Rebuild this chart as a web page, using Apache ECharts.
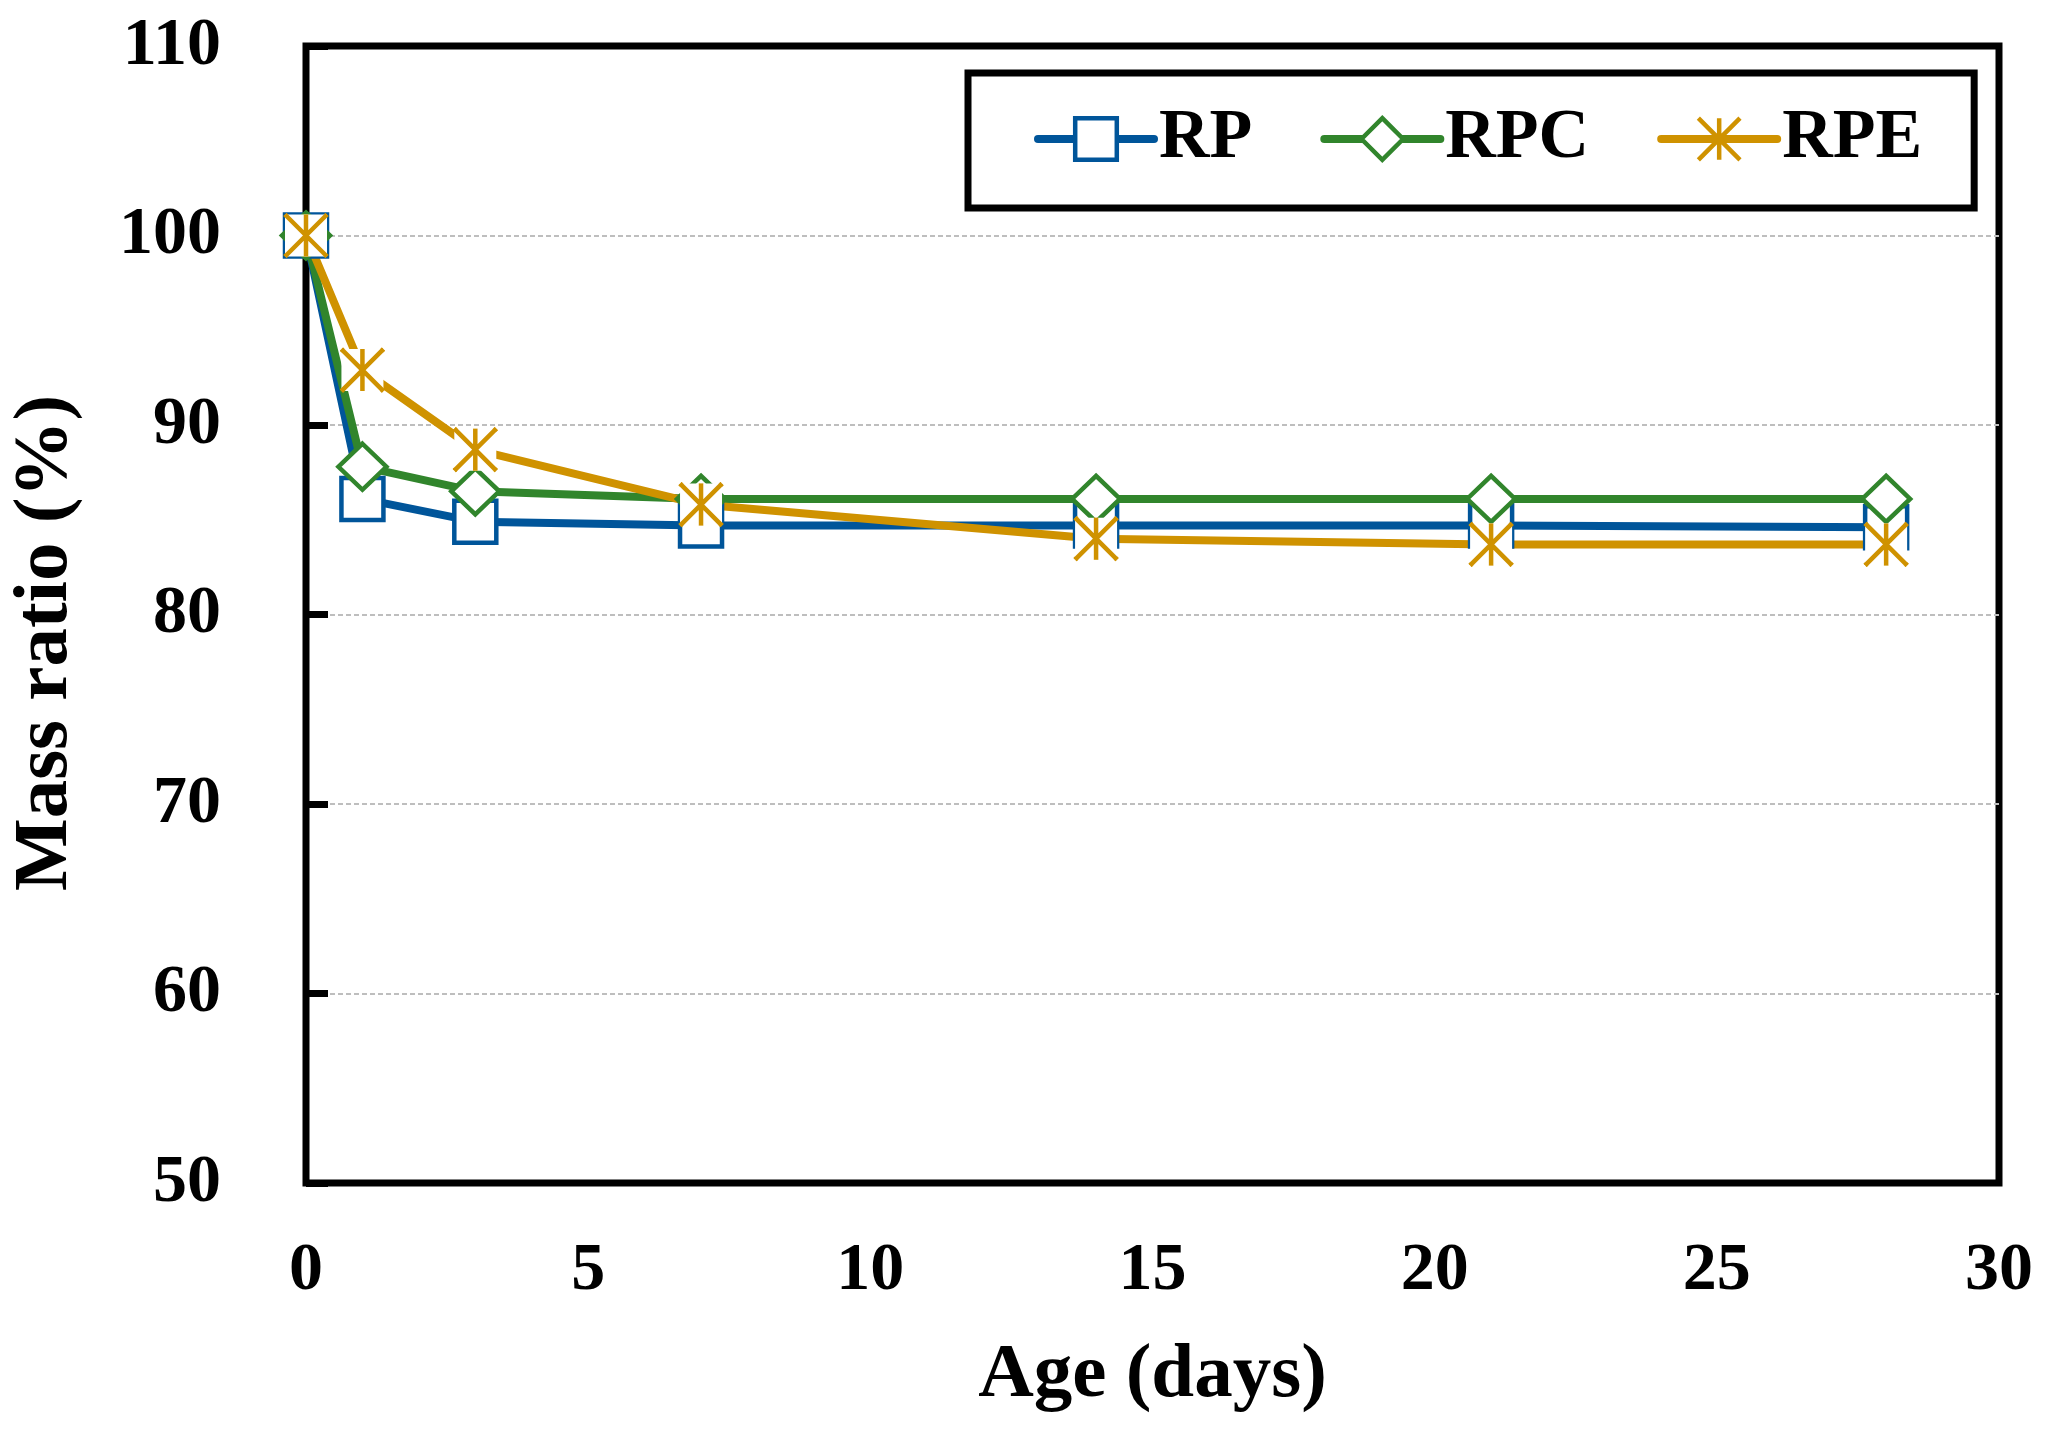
<!DOCTYPE html>
<html>
<head>
<meta charset="utf-8">
<script src="https://cdn.jsdelivr.net/npm/echarts@6/dist/echarts.min.js"></script>
<style>
html,body{margin:0;padding:0;background:#fff;}
#chart{width:2049px;height:1435px;}
</style>
</head>
<body>
<div id="chart"></div>
<script>
// ---- data ----
const ages = [0, 1, 3, 7, 14, 21, 28];
const RP  = [100, 86.1, 84.9, 84.7, 84.7, 84.7, 84.6];
const RPC = [100, 87.8, 86.5, 86.1, 86.1, 86.1, 86.1];
const RPE = [100, 92.9, 88.7, 85.8, 84.0, 83.7, 83.7];
const seriesNames = ['RP', 'RPC', 'RPE'];
const xTicks = [0, 5, 10, 15, 20, 25, 30];
const yTicks = [50, 60, 70, 80, 90, 100, 110];

const pairs = (ys) => ages.map((a, i) => [a, ys[i]]);

const FONT = 'Liberation Serif';
const BLUE = '#00559A', GREEN = '#31852C', ORANGE = '#CF9200';
const STAR = 'path://M0,0L0,20M-10,0L10,20M10,0L-10,20';

const chart = echarts.init(document.getElementById('chart'));
chart.setOption({
  backgroundColor: '#fff',
  animation: false,
  grid: { left: 306, right: 50, top: 46, bottom: 252, show: true,
          borderColor: '#000', borderWidth: 7, backgroundColor: 'transparent' },
  xAxis: {
    type: 'value', min: xTicks[0], max: xTicks[xTicks.length - 1], interval: 5,
    axisLine: { show: false }, axisTick: { show: false }, splitLine: { show: false },
    axisLabel: { margin: 54, fontFamily: FONT, fontWeight: 'bold', fontSize: 68, color: '#000' },
    name: 'Age (days)', nameLocation: 'middle', nameGap: 155,
    nameTextStyle: { fontFamily: FONT, fontWeight: 'bold', fontSize: 77, color: '#000' }
  },
  yAxis: {
    type: 'value', min: yTicks[0], max: yTicks[yTicks.length - 1], interval: 10,
    axisLine: { show: false },
    axisTick: { show: true, inside: true, length: 22, lineStyle: { color: '#000', width: 7 } },
    splitLine: { show: true, showMinLine: false, showMaxLine: false,
                 lineStyle: { color: '#BEBEBE', width: 2, type: [5, 3] } },
    axisLabel: { margin: 85, fontFamily: FONT, fontWeight: 'bold', fontSize: 68, color: '#000' }
  },
  graphic: [{
    type: 'text', x: 46, y: 643, rotation: Math.PI / 2,
    style: { text: 'Mass ratio (%)', fill: '#000', align: 'center', verticalAlign: 'middle',
             font: 'bold 77px "Liberation Serif"' }
  }],
  legend: {
    data: seriesNames, left: 968, top: 73, orient: 'horizontal',
    itemWidth: 116, itemHeight: 52, itemGap: 68,
    padding: [31, 52, 34, 66],
    borderColor: '#000', borderWidth: 7, backgroundColor: '#fff',
    lineStyle: { width: 8, cap: 'round' },
    itemStyle: { borderWidth: 4.5 },
    textStyle: { fontFamily: FONT, fontWeight: 'bold', fontSize: 70, color: '#000' }
  },
  series: [
    { name: seriesNames[0], type: 'line', data: pairs(RP), clip: false,
      symbol: 'rect', symbolSize: 42,
      lineStyle: { color: BLUE, width: 8, cap: 'round' },
      itemStyle: { color: '#fff', borderColor: BLUE, borderWidth: 4.5 } },
    { name: seriesNames[1], type: 'line', data: pairs(RPC), clip: false,
      symbol: 'diamond', symbolSize: [48, 46],
      lineStyle: { color: GREEN, width: 8, cap: 'round' },
      itemStyle: { color: '#fff', borderColor: GREEN, borderWidth: 4.5 } },
    { name: seriesNames[2], type: 'line', data: pairs(RPE), clip: false,
      symbol: STAR, symbolSize: 42,
      lineStyle: { color: ORANGE, width: 8, cap: 'round' },
      itemStyle: { color: ORANGE, borderColor: ORANGE, borderWidth: 4.5 } },
    { name: 'RPE_bg', type: 'line', data: pairs(RPE), clip: false,
      symbol: 'rect', symbolSize: 42, showSymbol: true,
      lineStyle: { width: 0, opacity: 0 },
      itemStyle: { color: '#fff', borderWidth: 0 } },
    { name: 'RPE_mark', type: 'line', data: pairs(RPE), clip: false,
      symbol: STAR, symbolSize: 42,
      lineStyle: { width: 0, opacity: 0 },
      itemStyle: { color: ORANGE, borderColor: ORANGE, borderWidth: 4.5 } }
  ]
});
</script>
</body>
</html>
